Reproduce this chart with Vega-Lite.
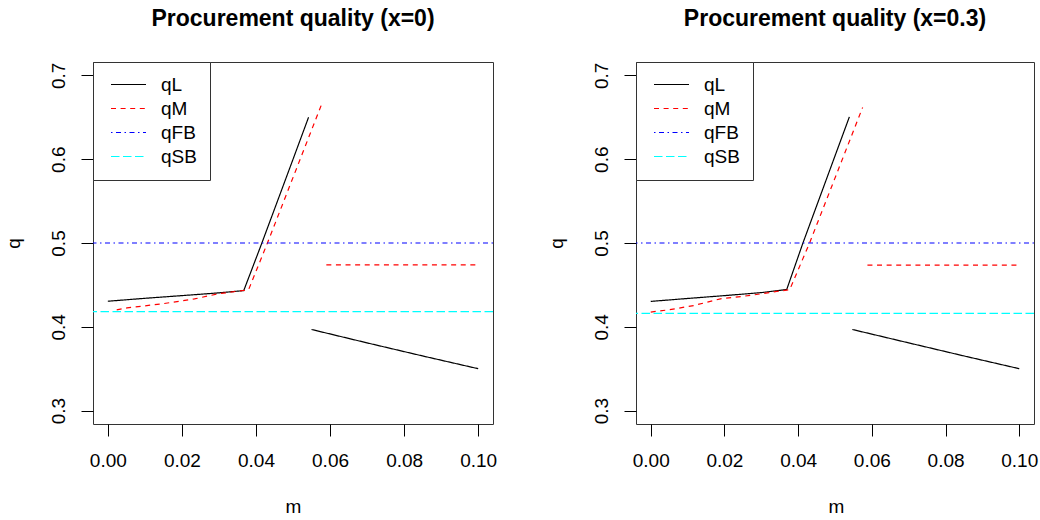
{
  "$schema": "https://vega.github.io/schema/vega-lite/v6.json",
  "background": "white",
  "padding": {"left": 3, "top": 7, "right": 0, "bottom": 0},
  "autosize": {"type": "pad"},
  "bounds": "flush",
  "spacing": 143,
  "datasets": {
    "curves0": [
      {"s": "qL", "g": 1, "m": 0.0, "q": 0.4305},
      {"s": "qL", "g": 1, "m": 0.01, "q": 0.434},
      {"s": "qL", "g": 1, "m": 0.02, "q": 0.4372},
      {"s": "qL", "g": 1, "m": 0.03, "q": 0.4405},
      {"s": "qL", "g": 1, "m": 0.0367, "q": 0.4432},
      {"s": "qL", "g": 1, "m": 0.0416, "q": 0.5},
      {"s": "qL", "g": 1, "m": 0.0501, "q": 0.601},
      {"s": "qL", "g": 1, "m": 0.0542, "q": 0.65},
      {"s": "qL", "g": 2, "m": 0.055, "q": 0.3968},
      {"s": "qL", "g": 2, "m": 0.07, "q": 0.3808},
      {"s": "qL", "g": 2, "m": 0.085, "q": 0.3652},
      {"s": "qL", "g": 2, "m": 0.1, "q": 0.35},
      {"s": "qM", "g": 1, "m": 0.0024, "q": 0.4202},
      {"s": "qM", "g": 1, "m": 0.0052, "q": 0.4226},
      {"s": "qM", "g": 1, "m": 0.0143, "q": 0.4272},
      {"s": "qM", "g": 1, "m": 0.0234, "q": 0.4333},
      {"s": "qM", "g": 1, "m": 0.0297, "q": 0.4393},
      {"s": "qM", "g": 1, "m": 0.038, "q": 0.4442},
      {"s": "qM", "g": 1, "m": 0.0431, "q": 0.5},
      {"s": "qM", "g": 1, "m": 0.0579, "q": 0.6675},
      {"s": "qM", "g": 2, "m": 0.059, "q": 0.4738},
      {"s": "qM", "g": 2, "m": 0.1, "q": 0.4738}
    ],
    "refs0": [
      {"s": "qFB", "q": 0.5},
      {"s": "qSB", "q": 0.418}
    ],
    "curves3": [
      {"s": "qL", "g": 1, "m": 0.0, "q": 0.4303},
      {"s": "qL", "g": 1, "m": 0.01, "q": 0.4338},
      {"s": "qL", "g": 1, "m": 0.02, "q": 0.4372},
      {"s": "qL", "g": 1, "m": 0.03, "q": 0.4408},
      {"s": "qL", "g": 1, "m": 0.0369, "q": 0.4445},
      {"s": "qL", "g": 1, "m": 0.0413, "q": 0.5},
      {"s": "qL", "g": 1, "m": 0.0539, "q": 0.6505},
      {"s": "qL", "g": 2, "m": 0.0547, "q": 0.3968},
      {"s": "qL", "g": 2, "m": 0.07, "q": 0.3808},
      {"s": "qL", "g": 2, "m": 0.085, "q": 0.3652},
      {"s": "qL", "g": 2, "m": 0.1, "q": 0.35},
      {"s": "qM", "g": 1, "m": 0.0, "q": 0.4176},
      {"s": "qM", "g": 1, "m": 0.005, "q": 0.4203},
      {"s": "qM", "g": 1, "m": 0.0117, "q": 0.4254},
      {"s": "qM", "g": 1, "m": 0.0189, "q": 0.4334},
      {"s": "qM", "g": 1, "m": 0.027, "q": 0.4374},
      {"s": "qM", "g": 1, "m": 0.0342, "q": 0.4422},
      {"s": "qM", "g": 1, "m": 0.0377, "q": 0.4442},
      {"s": "qM", "g": 1, "m": 0.0431, "q": 0.5},
      {"s": "qM", "g": 1, "m": 0.0575, "q": 0.6618},
      {"s": "qM", "g": 2, "m": 0.0588, "q": 0.4735},
      {"s": "qM", "g": 2, "m": 0.1, "q": 0.4735}
    ],
    "refs3": [
      {"s": "qFB", "q": 0.5},
      {"s": "qSB", "q": 0.416}
    ]
  },
  "hconcat": [
    {
      "title": "Procurement quality (x=0)",
      "width": 400,
      "height": 362,
      "layer": [
        {
          "data": {"name": "curves0"},
          "mark": {"type": "line", "strokeWidth": 1.2, "clip": true},
          "encoding": {
            "x": {"field": "m", "type": "quantitative", "title": "m",
              "scale": {"domain": [-0.004, 0.104], "nice": false, "zero": false},
              "axis": {"values": [0, 0.02, 0.04, 0.06, 0.08, 0.1], "format": ".2f"}},
            "y": {"field": "q", "type": "quantitative", "title": "q",
              "scale": {"domain": [0.284, 0.716], "nice": false, "zero": false},
              "axis": {"values": [0.3, 0.4, 0.5, 0.6, 0.7], "format": ".1f"}},
            "color": {"field": "s", "type": "nominal",
              "scale": {"domain": ["qL", "qM", "qFB", "qSB"], "range": ["#000000", "#ff0000", "#0000ff", "#00ffff"]},
              "legend": {"title": null}},
            "strokeDash": {"field": "s", "type": "nominal",
              "scale": {"domain": ["qL", "qM", "qFB", "qSB"], "range": [[1, 0], [5, 4.6], [1.5, 3.5, 5, 3.5], [8.5, 3.5]]},
              "legend": {"title": null}},
            "detail": {"field": "g"}
          }
        },
        {
          "data": {"name": "refs0"},
          "mark": {"type": "rule", "strokeWidth": 1.2},
          "encoding": {
            "y": {"field": "q", "type": "quantitative", "title": "q",
              "scale": {"domain": [0.284, 0.716], "nice": false, "zero": false},
              "axis": {"values": [0.3, 0.4, 0.5, 0.6, 0.7], "format": ".1f"}},
            "color": {"field": "s", "type": "nominal",
              "scale": {"domain": ["qL", "qM", "qFB", "qSB"], "range": ["#000000", "#ff0000", "#0000ff", "#00ffff"]},
              "legend": {"title": null}},
            "strokeDash": {"field": "s", "type": "nominal",
              "scale": {"domain": ["qL", "qM", "qFB", "qSB"], "range": [[1, 0], [5, 4.6], [1.5, 3.5, 5, 3.5], [8.5, 3.5]]},
              "legend": {"title": null}}
          }
        }
      ]
    },
    {
      "title": "Procurement quality (x=0.3)",
      "width": 398,
      "height": 362,
      "layer": [
        {
          "data": {"name": "curves3"},
          "mark": {"type": "line", "strokeWidth": 1.2, "clip": true},
          "encoding": {
            "x": {"field": "m", "type": "quantitative", "title": "m",
              "scale": {"domain": [-0.004, 0.104], "nice": false, "zero": false},
              "axis": {"values": [0, 0.02, 0.04, 0.06, 0.08, 0.1], "format": ".2f"}},
            "y": {"field": "q", "type": "quantitative", "title": "q",
              "scale": {"domain": [0.284, 0.716], "nice": false, "zero": false},
              "axis": {"values": [0.3, 0.4, 0.5, 0.6, 0.7], "format": ".1f"}},
            "color": {"field": "s", "type": "nominal",
              "scale": {"domain": ["qL", "qM", "qFB", "qSB"], "range": ["#000000", "#ff0000", "#0000ff", "#00ffff"]},
              "legend": {"title": null}},
            "strokeDash": {"field": "s", "type": "nominal",
              "scale": {"domain": ["qL", "qM", "qFB", "qSB"], "range": [[1, 0], [5, 4.6], [1.5, 3.5, 5, 3.5], [8.5, 3.5]]},
              "legend": {"title": null}},
            "detail": {"field": "g"}
          }
        },
        {
          "data": {"name": "refs3"},
          "mark": {"type": "rule", "strokeWidth": 1.2},
          "encoding": {
            "y": {"field": "q", "type": "quantitative", "title": "q",
              "scale": {"domain": [0.284, 0.716], "nice": false, "zero": false},
              "axis": {"values": [0.3, 0.4, 0.5, 0.6, 0.7], "format": ".1f"}},
            "color": {"field": "s", "type": "nominal",
              "scale": {"domain": ["qL", "qM", "qFB", "qSB"], "range": ["#000000", "#ff0000", "#0000ff", "#00ffff"]},
              "legend": {"title": null}},
            "strokeDash": {"field": "s", "type": "nominal",
              "scale": {"domain": ["qL", "qM", "qFB", "qSB"], "range": [[1, 0], [5, 4.6], [1.5, 3.5, 5, 3.5], [8.5, 3.5]]},
              "legend": {"title": null}}
          }
        }
      ]
    }
  ],
  "resolve": {
    "scale": {"x": "independent", "y": "independent", "color": "independent", "strokeDash": "independent"},
    "legend": {"color": "independent", "strokeDash": "independent"}
  },
  "config": {
    "font": "Liberation Sans",
    "view": {"stroke": "#333333", "strokeWidth": 1},
    "title": {"fontSize": 23, "fontWeight": "bold", "color": "#000000", "baseline": "alphabetic", "offset": 31, "anchor": "middle", "frame": "group"},
    "axis": {
      "domain": false, "grid": false,
      "tickColor": "#000000", "tickSize": 12, "tickWidth": 1,
      "labelFontSize": 19, "labelColor": "#000000", "labelFlush": false, "labelOverlap": false,
      "titleFontSize": 19, "titleFontWeight": "normal", "titleColor": "#000000"
    },
    "axisX": {
      "labelPadding": 15,
      "titleX": 200, "titleY": 88, "titleAlign": "center", "titleBaseline": "alphabetic"
    },
    "axisY": {
      "labelAngle": -90, "labelAlign": "center", "labelBaseline": "alphabetic", "labelPadding": 17,
      "titleAngle": -90, "titleX": -74, "titleY": 181, "titleAlign": "center", "titleBaseline": "alphabetic"
    },
    "legend": {
      "orient": "top-left", "offset": 0, "padding": 13,
      "strokeColor": "#333333", "fillColor": "#ffffff", "cornerRadius": 0,
      "symbolType": "M-3.5,0H3.5", "symbolSize": 100, "symbolStrokeWidth": 1.2,
      "symbolOffset": 13, "labelOffset": 23, "rowPadding": 4,
      "labelFontSize": 19, "labelColor": "#000000"
    }
  }
}
